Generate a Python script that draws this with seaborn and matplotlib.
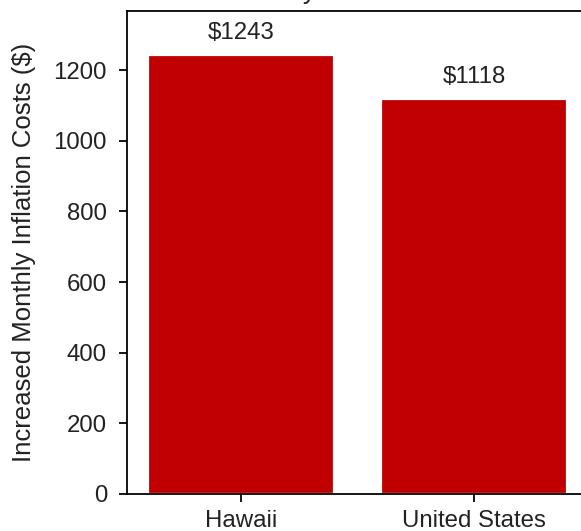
import pandas as pd
import seaborn as sns
import matplotlib
matplotlib.use("Agg")
import matplotlib.pyplot as plt

regions = ["Hawaii", "United States"]
costs = [1243, 1118]
bar_color = "#C00000"

sns.set_style("ticks")
plt.rcParams["font.family"] = ["Liberation Sans", "DejaVu Sans"]

df = pd.DataFrame({"region": regions, "cost": costs})

fig = plt.figure(figsize=(581 / 160, 531 / 160), dpi=160)
ax = fig.add_axes([0.2186, 0.0697, 0.7935, 0.9096])

sns.barplot(data=df, x="region", y="cost", color=bar_color, saturation=1,
            width=0.8, ax=ax)

for i, v in enumerate(costs):
    ax.annotate(f"${v}", (i, v), xytext=(0, 5), textcoords="offset points",
                ha="center", va="bottom", fontsize=10.8, color="#222222")

ax.set_xlim(-0.49, 1.49)
ax.set_ylim(0, max(costs) * 1.1)
ax.set_yticks(range(0, 1201, 200))
ax.set_xlabel("")
ax.set_ylabel("Increased Monthly Inflation Costs ($)", fontsize=11.6,
              labelpad=8, color="#222222")
ax.set_title("Monthly Inflation Costs", fontsize=12)

for s in ax.spines.values():
    s.set_visible(True)
    s.set_color("black")
ax.tick_params(colors="black", labelcolor="#222222", labelsize=10.8)
ax.tick_params(axis="y", pad=5.5)

fig.savefig("out.png", dpi=160)
